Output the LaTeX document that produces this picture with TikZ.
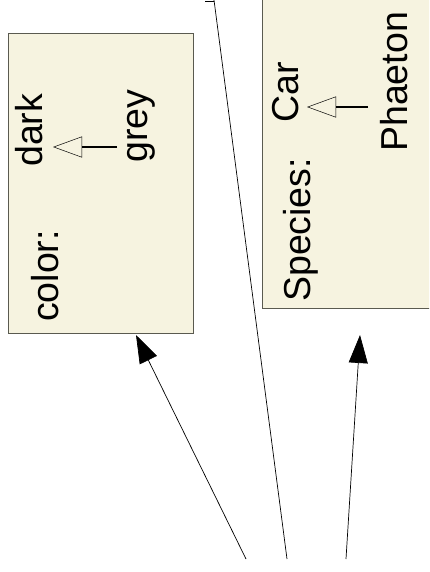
\documentclass[tikz,border=0pt]{standalone}
\usepackage{fontspec}
\setmainfont{Liberation Sans}
\usetikzlibrary{arrows.meta}
\definecolor{boxfill}{RGB}{246,243,224}
\definecolor{boxdraw}{RGB}{90,90,80}
\begin{document}
\begin{tikzpicture}[x=1pt,y=-1pt,
  umlbox/.style={draw=boxdraw,fill=boxfill,line width=0.9pt,inner sep=0pt},
  lbl/.style={font=\fontsize{37.5}{40}\selectfont,rotate=90,anchor=base west,inner sep=0pt},
  assoc/.style={line width=0.7pt,-{Triangle[length=28pt,width=19pt]}},
  inherit/.style={line width=1.6pt,-{Triangle[open,length=29pt,width=21pt,line width=0.5pt]}},
  plain/.style={line width=0.7pt}]
\useasboundingbox (0,0) rectangle (429,572);
\clip (0,0) rectangle (429,572);
\fill[white] (0,0) rectangle (429,572);
% boxes
\node[umlbox,minimum width=185pt,minimum height=300pt] (lbox) at (100.5,183) {};
\node[umlbox,minimum width=190pt,minimum height=320pt] (rbox) at (357,148) {};
% left box texts
\node[lbl] (color) at (58,322) {color:};
\node[lbl] (dark) at (42,167) {dark};
\node[lbl] (grey) at (147,163) {grey};
\coordinate (lgs) at (117,147);
\coordinate (lgt) at (53,147);
\draw[inherit] (lgs) -- (lgt);
% right box texts
\node[lbl] (species) at (310,302) {Species:};
\node[lbl] (car) at (298,123) {Car};
\node[lbl] (phaeton) at (407,152) {Phaeton};
\coordinate (rgs) at (368,107);
\coordinate (rgt) at (307,107);
\draw[inherit] (rgs) -- (rgt);
% connectors
\coordinate (s1) at (246,559);
\coordinate (s2) at (287,559);
\coordinate (s3) at (346,559);
\coordinate (t1) at (136,335);
\coordinate (t2) at (214,0);
\coordinate (t3) at (360,335);
\coordinate (tick) at (205,1);
\draw[assoc] (s1) -- (t1);
\draw[assoc] (s3) -- (t3);
\draw[plain] (s2) -- (t2);
\draw[plain] (t2) ++(0,1) -- (tick);
\end{tikzpicture}
\end{document}
